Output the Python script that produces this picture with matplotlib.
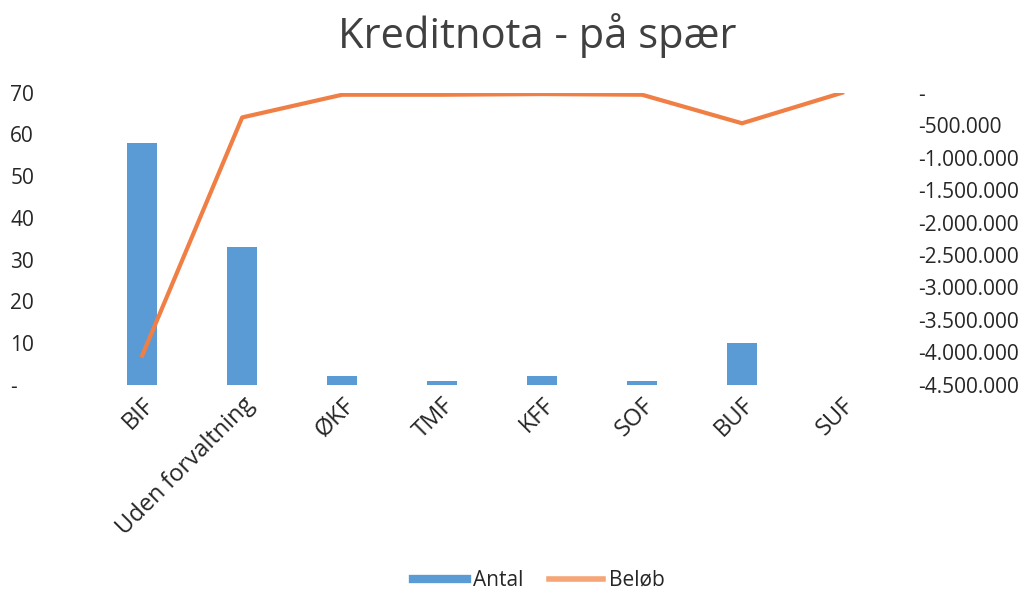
import numpy as np
import matplotlib
matplotlib.use("Agg")
import matplotlib.pyplot as plt
from matplotlib.ticker import FuncFormatter
from matplotlib.lines import Line2D


# -----------------------------
# Data
# -----------------------------

categories = ["BIF", "Uden forvaltning", "ØKF", "TMF", "KFF", "SOF", "BUF", "SUF"]

antal = [58, 33, 2, 1, 2, 1, 10, 0]

beloeb = [-4050000, -380000, -30000, -30000, -20000, -30000, -470000, 0]

left_ticks = [0, 10, 20, 30, 40, 50, 60, 70]
right_ticks = [0, -500000, -1000000, -1500000, -2000000, -2500000,
               -3000000, -3500000, -4000000, -4500000]


# -----------------------------
# Style
# -----------------------------

plt.rcParams["font.family"] = ["Open Sans", "DejaVu Sans"]

BAR_COLOR = "#5B9BD5"
LINE_COLOR = "#F07F45"
TEXT_COLOR = "#262626"


def dk_fmt(v, pos):
    if v == 0:
        return "-"
    s = f"{abs(int(round(v))):,}".replace(",", ".")
    return ("-" if v < 0 else "") + s


# -----------------------------
# Plot
# -----------------------------

fig = plt.figure(figsize=(10.36, 5.91), dpi=100)
ax = fig.add_axes([0.089, 0.349, 0.772, 0.494])
ax2 = ax.twinx()

x = np.arange(len(categories))

ax.bar(x, antal, width=0.3, color=BAR_COLOR, zorder=2)
ax2.plot(x, beloeb, color=LINE_COLOR, linewidth=3, zorder=3)

ax.set_xlim(-0.5, len(categories) - 0.5)
ax.set_ylim(0, 70)
ax2.set_ylim(-4500000, 0)

ax.set_yticks(left_ticks)
ax.yaxis.set_major_formatter(FuncFormatter(dk_fmt))
ax2.set_yticks(right_ticks)
ax2.yaxis.set_major_formatter(FuncFormatter(dk_fmt))

ax.set_xticks(x)
ax.set_xticklabels(categories, rotation=45, ha="right", rotation_mode="anchor")

for a in (ax, ax2):
    for s in a.spines.values():
        s.set_visible(False)

ax.tick_params(axis="y", length=0, pad=59, labelsize=15, colors=TEXT_COLOR)
ax.tick_params(axis="x", length=0, pad=6, labelsize=17, colors=TEXT_COLOR)
ax2.tick_params(axis="y", length=0, pad=19, labelsize=15, colors=TEXT_COLOR)

for lbl in ax.get_yticklabels():
    lbl.set_horizontalalignment("left")

fig.text(0.519, 0.94, "Kreditnota - på spær", ha="center", va="center",
         fontsize=30, color="#404040")

handles = [
    Line2D([0], [0], color=BAR_COLOR, linewidth=6, label="Antal"),
    Line2D([0], [0], color="#F5A576", linewidth=4, label="Beløb"),
]
fig.legend(handles=handles, loc="center", bbox_to_anchor=(0.52, 0.018),
           ncol=2, frameon=False, fontsize=15, handlelength=2.6,
           handletextpad=0.3, columnspacing=1.2, labelcolor=TEXT_COLOR)


# -----------------------------
# Save
# -----------------------------

fig.savefig("out.png", dpi=100)
plt.close(fig)

print("Saved: out.png")
